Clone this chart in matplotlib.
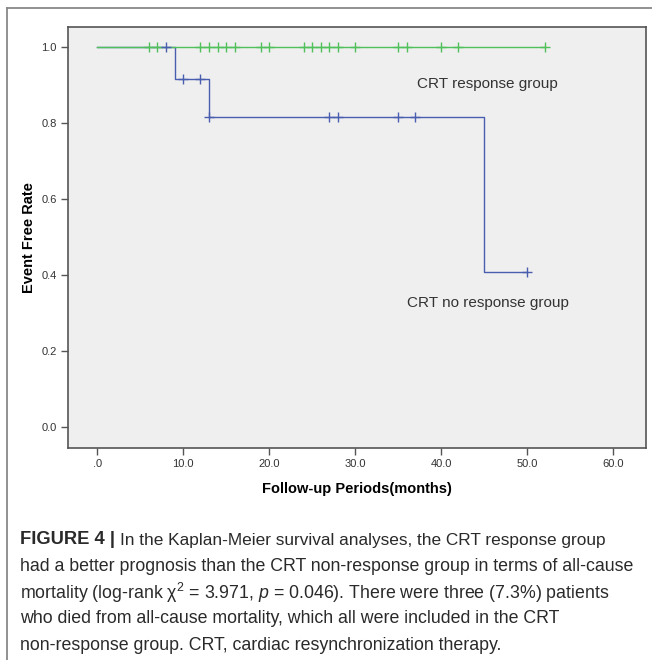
import numpy as np
import matplotlib
matplotlib.use("Agg")
import matplotlib.pyplot as plt
from matplotlib.lines import Line2D

plt.rcParams['font.family'] = ['Liberation Sans', 'DejaVu Sans']
plt.rcParams['mathtext.fontset'] = 'custom'
plt.rcParams['mathtext.rm'] = 'Liberation Sans'
plt.rcParams['mathtext.it'] = 'Liberation Sans:italic'

# Kaplan-Meier step tables
resp_times = [0, 52]
resp_surv = [1.0, 1.0]
resp_censor = [6, 7, 12, 13, 14, 15, 16, 19, 20, 24, 25, 26, 27, 28, 30, 35, 36, 40, 42, 52]

noresp_times = [0, 9, 13, 45, 50]
noresp_surv = [1.0, 0.917, 0.815, 0.407, 0.407]
noresp_censor = [8, 10, 12, 13, 27, 28, 35, 37, 50]

x_ticks = [0, 10, 20, 30, 40, 50, 60]
x_ticklabels = [".0", "10.0", "20.0", "30.0", "40.0", "50.0", "60.0"]
y_ticks = [0.0, 0.2, 0.4, 0.6, 0.8, 1.0]
y_ticklabels = ["0.0", "0.2", "0.4", "0.6", "0.8", "1.0"]

GREEN = '#4fc05a'
BLUE = '#4a5eb0'


def level_at(times, surv, t):
    # value of the step curve just after time t
    idx = np.searchsorted(times, t, side='right') - 1
    return np.asarray(surv)[idx]


fig = plt.figure(figsize=(6.52, 6.60), dpi=100)
fig.patch.set_facecolor('white')

ax = fig.add_axes([68 / 652, 1 - 448 / 660, 578 / 652, 421 / 660])
ax.set_facecolor('#efefef')

# curves: blue first so the shared 1.0 segment shows green
ax.step(noresp_times, noresp_surv, where='post', color=BLUE, lw=1.0, zorder=2)
ax.step(resp_times, resp_surv, where='post', color=GREEN, lw=1.0, zorder=3)

ax.plot(resp_censor, level_at(resp_times, resp_surv, resp_censor), ls='none',
        marker='+', ms=7, mew=1.0, color=GREEN, zorder=4)
ax.plot(noresp_censor, level_at(noresp_times, noresp_surv, noresp_censor), ls='none',
        marker='+', ms=7, mew=1.0, color=BLUE, zorder=5)

ax.text(37.2, 0.903, "CRT response group", fontsize=11, color='#333333', va='center')
ax.text(36.0, 0.326, "CRT no response group", fontsize=11, color='#333333', va='center')

ax.set_xlim(-3.4, 63.8)
ax.set_ylim(-0.055, 1.053)
ax.set_xticks(x_ticks)
ax.set_xticklabels(x_ticklabels)
ax.set_yticks(y_ticks)
ax.set_yticklabels(y_ticklabels)
ax.tick_params(direction='out', length=5, width=1.0, color='#555555',
               labelsize=8, labelcolor='#333333', pad=3)

for s in ax.spines.values():
    s.set_color('#555555')
    s.set_linewidth(1.2)

ax.set_xlabel("Follow-up Periods(months)", fontsize=10.5, fontweight='bold', labelpad=9)
ax.set_ylabel("Event Free Rate", fontsize=10.5, fontweight='bold', labelpad=4)

# outer panel frame (top and left edges)
fig.add_artist(Line2D([7 / 652, 1.0], [1 - 8 / 660, 1 - 8 / 660], color='#888888', lw=1.3))
fig.add_artist(Line2D([7 / 652, 7 / 652], [1 - 8 / 660, 0.0], color='#888888', lw=1.3))

# caption
cap_lines = [
    "In the Kaplan-Meier survival analyses, the CRT response group",
    "had a better prognosis than the CRT non-response group in terms of all-cause",
    r"mortality (log-rank $\mathrm{\chi}^2$ = 3.971, $p$ = 0.046). There were three (7.3%) patients",
    "who died from all-cause mortality, which all were included in the CRT",
    "non-response group. CRT, cardiac resynchronization therapy.",
]
cap_x = 20 / 652
cap_y0 = 540
cap_dy = 26.3
cap_size = 12.8
cap_color = '#2a2a2a'

head = fig.text(cap_x, 1 - cap_y0 / 660, "FIGURE 4 |", fontsize=13.2, fontweight='bold',
                color=cap_color, va='center')
renderer = fig.canvas.get_renderer()
bb = head.get_window_extent(renderer)
fig.text(bb.x1 / fig.bbox.width + 5 / 652, 1 - cap_y0 / 660, cap_lines[0],
         fontsize=12.4, color=cap_color, va='center')
for i, line in enumerate(cap_lines[1:], start=1):
    fig.text(cap_x, 1 - (cap_y0 + i * cap_dy) / 660, line,
             fontsize=cap_size, color=cap_color, va='center')

fig.savefig("out.png", dpi=100)
